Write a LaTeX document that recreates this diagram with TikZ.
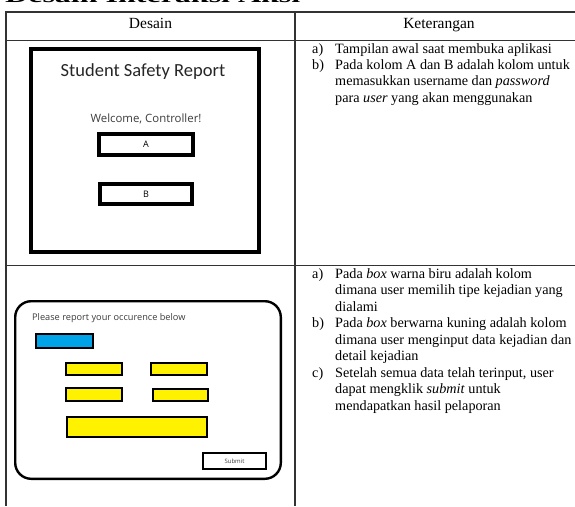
\documentclass[tikz,border=0pt]{standalone}
\usepackage{fontspec}
\setmainfont{Liberation Serif}
\newfontfamily\calfont{Carlito}
\newfontfamily\uifont{Open Sans}
\definecolor{uiblue}{RGB}{0,162,232}
\definecolor{uiyellow}{RGB}{255,242,0}
\definecolor{uigray}{RGB}{60,60,60}
\tikzset{
  tbl/.style={line width=1.1pt, draw=black!80},
  hdr/.style={font=\fontsize{15.5}{17}\selectfont, inner sep=0, anchor=base},
  ln/.style={font=\fontsize{14.2}{16}\selectfont, inner sep=0, anchor=base west},
  fld/.style={draw, inner sep=0, outer sep=0},
}
\begin{document}
\begin{tikzpicture}[x=1pt,y=-1pt]
\useasboundingbox (0,0) rectangle (575,506);
% clipped heading
\begin{scope}
\clip (0,0) rectangle (575,10);
\node[anchor=base west, inner sep=0, font=\bfseries\fontsize{20}{20}\selectfont] (heading) at (5,2) {\scalebox{1.6}[1]{Desain Interaksi Aksi}};
\end{scope}
% table
\draw[tbl] (575,12) -- (6,12) -- (6,506);
\draw[tbl] (6,40.5) -- (575,40.5);
\draw[tbl] (6,265.5) -- (575,265.5);
\draw[tbl] (295,12) -- (295,506);
\node[hdr] (hdesain) at (150.5,28.5) {Desain};
\node[hdr] (hket) at (439,28.5) {Keterangan};
% row 1 text
\node[ln] (r1a) at (312,53) {a)};
\node[ln] (r1a1) at (335,53) {Tampilan awal saat membuka aplikasi};
\node[ln] (r1b) at (312,69.4) {b)};
\node[ln] (r1b1) at (335,69.4) {Pada kolom A dan B adalah kolom untuk};
\node[ln] (r1b2) at (335,85.8) {memasukkan username dan \textit{password}};
\node[ln] (r1b3) at (335,102.2) {para \textit{user} yang akan menggunakan};
% row 2 text
\node[ln] (r2a) at (312,278) {a)};
\node[ln] (r2a1) at (335,278) {Pada \textit{box} warna biru adalah kolom};
\node[ln] (r2a2) at (335,294.5) {dimana user memilih tipe kejadian yang};
\node[ln] (r2a3) at (335,311) {dialami};
\node[ln] (r2b) at (312,327.5) {b)};
\node[ln] (r2b1) at (335,327.5) {Pada \textit{box} berwarna kuning adalah kolom};
\node[ln] (r2b2) at (335,344) {dimana user menginput data kejadian dan};
\node[ln] (r2b3) at (335,360.5) {detail kejadian};
\node[ln] (r2c) at (312,377) {c)};
\node[ln] (r2c1) at (335,377) {Setelah semua data telah terinput, user};
\node[ln] (r2c2) at (335,393.5) {dapat mengklik \textit{submit} untuk};
\node[ln] (r2c3) at (335,410) {mendapatkan hasil pelaporan};
% mockup 1
\node[fld, line width=4pt, minimum width=227.4, minimum height=202.7] (frame1) at (145,150.7) {};
\node[inner sep=0, anchor=base, font=\calfont\fontsize{18.5}{20}\selectfont, text=black!85] (title1) at (143,76.7) {Student Safety Report};
\node[inner sep=0, anchor=base, font=\uifont\fontsize{11.4}{13}\selectfont, text=uigray] (welcome) at (146,122) {Welcome, Controller!};
\node[fld, line width=4pt, minimum width=94, minimum height=21, font=\uifont\fontsize{9}{10}\selectfont] (boxA) at (146,144.5) {A};
\node[fld, line width=4pt, minimum width=92, minimum height=20, font=\uifont\fontsize{9}{10}\selectfont] (boxB) at (146,194) {B};
% mockup 2
\node[fld, line width=2.4pt, rounded corners=16pt, minimum width=265.6, minimum height=177.6] (frame2) at (148,390) {};
\node[inner sep=0, anchor=base west, font=\uifont\fontsize{9.2}{11}\selectfont, text=uigray] (prompt) at (32,320) {Please report your occurence below};
\node[fld, line width=1.8pt, fill=uiblue, minimum width=57, minimum height=14] (blue) at (64.5,341) {};
\node[fld, line width=1.8pt, fill=uiyellow, minimum width=56, minimum height=12] (y1a) at (94,369) {};
\node[fld, line width=1.8pt, fill=uiyellow, minimum width=56, minimum height=12] (y1b) at (179,369) {};
\node[fld, line width=1.8pt, fill=uiyellow, minimum width=56, minimum height=13] (y2a) at (94,394.5) {};
\node[fld, line width=1.8pt, fill=uiyellow, minimum width=55, minimum height=12] (y2b) at (180.5,395) {};
\node[fld, line width=1.8pt, fill=uiyellow, minimum width=140, minimum height=20] (y3) at (137,427) {};
\node[fld, line width=2pt, minimum width=63, minimum height=16, font=\uifont\fontsize{6}{7}\selectfont, text=uigray] (submit) at (234.5,461) {Submit};
\end{tikzpicture}
\end{document}
